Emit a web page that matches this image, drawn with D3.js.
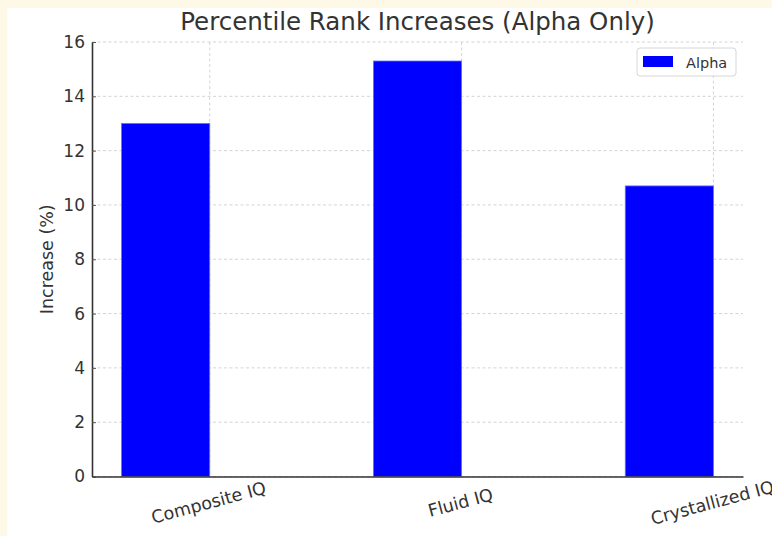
<!DOCTYPE html>
<html>
<head>
<meta charset="utf-8">
<script src="https://cdn.jsdelivr.net/npm/d3@7"></script>
<style>
  html, body { margin: 0; padding: 0; background: #fdf9e6; overflow: hidden; }
  svg { display: block; font-family: "DejaVu Sans", sans-serif; }
</style>
</head>
<body>
<svg id="chart"></svg>
<script>
// Data
const categories = ["Composite IQ", "Fluid IQ", "Crystallized IQ"];
const alphaValues = [13.0, 15.3, 10.7];
const yTicks = [0, 2, 4, 6, 8, 10, 12, 14, 16];
const seriesName = "Alpha";

const width = 772;
const height = 536;

const svg = d3.select("#chart")
    .attr("width", width)
    .attr("height", height);

// white card on the cream page
svg.append("rect")
    .attr("x", 7).attr("y", 8)
    .attr("width", width - 7).attr("height", height - 8)
    .attr("fill", "#ffffff");

const margin = { left: 92, right: 29, top: 42, bottom: 59.5 };
const plotW = width - margin.left - margin.right;
const plotH = height - margin.top - margin.bottom;
const barW = 0.35;

// numeric positions like matplotlib: tick at i, bar drawn from i - width to i
const x = d3.scaleLinear()
    .domain([-barW - 0.1175, categories.length - 1 + 0.1175])
    .range([margin.left, margin.left + plotW]);

const y = d3.scaleLinear()
    .domain([0, 16])
    .range([margin.top + plotH, margin.top]);

const g = svg.append("g");

// grid lines
g.selectAll(".hgrid")
    .data(yTicks)
    .enter().append("line")
    .attr("x1", margin.left).attr("x2", margin.left + plotW)
    .attr("y1", d => y(d)).attr("y2", d => y(d))
    .attr("stroke", "#cfcfcf")
    .attr("stroke-width", 0.9)
    .attr("stroke-dasharray", "3,2.5");

g.selectAll(".vgrid")
    .data(categories)
    .enter().append("line")
    .attr("x1", (d, i) => x(i)).attr("x2", (d, i) => x(i))
    .attr("y1", margin.top).attr("y2", margin.top + plotH)
    .attr("stroke", "#cfcfcf")
    .attr("stroke-width", 0.9)
    .attr("stroke-dasharray", "3,2.5");

// bars
g.selectAll(".bar")
    .data(alphaValues)
    .enter().append("rect")
    .attr("x", (d, i) => x(i - barW))
    .attr("y", d => y(d))
    .attr("width", (d, i) => x(i) - x(i - barW))
    .attr("height", d => y(0) - y(d))
    .attr("fill", "#0000ff")
    .attr("stroke", "#6b6bff")
    .attr("stroke-width", 0.8);

// y axis
const yAxis = d3.axisLeft(y)
    .tickValues(yTicks)
    .tickSize(0)
    .tickPadding(7);

const yG = svg.append("g")
    .attr("transform", `translate(${margin.left},0)`)
    .call(yAxis);
yG.select(".domain").attr("stroke", "#333").attr("stroke-width", 1.6);
yG.selectAll("text")
    .attr("font-size", 17)
    .attr("fill", "#333")
    .attr("font-family", "DejaVu Sans");
yG.selectAll(".tick").append("line")
    .attr("x1", 0).attr("x2", 4)
    .attr("stroke", "#555").attr("stroke-width", 1);

// x axis
const xAxis = d3.axisBottom(x)
    .tickValues(d3.range(categories.length))
    .tickFormat(i => categories[i])
    .tickSize(0)
    .tickPadding(0);

const xG = svg.append("g")
    .attr("transform", `translate(0,${margin.top + plotH})`)
    .call(xAxis);
xG.select(".domain").attr("stroke", "#333").attr("stroke-width", 1.6);
xG.selectAll("text")
    .attr("font-size", 17.5)
    .attr("fill", "#333")
    .attr("font-family", "DejaVu Sans")
    .attr("text-anchor", "middle")
    .attr("dy", 0)
    .attr("y", 0)
    .attr("transform", "translate(0,32) rotate(-15)");

// title
svg.append("text")
    .attr("x", margin.left + plotW / 2)
    .attr("y", 30)
    .attr("text-anchor", "middle")
    .attr("font-size", 24.5)
    .attr("fill", "#333")
    .text("Percentile Rank Increases (Alpha Only)");

// y label
svg.append("text")
    .attr("transform", `translate(53,${margin.top + plotH / 2}) rotate(-90)`)
    .attr("text-anchor", "middle")
    .attr("font-size", 17.5)
    .attr("fill", "#333")
    .text("Increase (%)");

// legend
const lg = svg.append("g").attr("transform", "translate(637,48)");
lg.append("rect")
    .attr("width", 99).attr("height", 28)
    .attr("rx", 3)
    .attr("fill", "#ffffff")
    .attr("fill-opacity", 0.85)
    .attr("stroke", "#d6d6d6");
lg.append("rect")
    .attr("x", 6).attr("y", 8)
    .attr("width", 30).attr("height", 11)
    .attr("fill", "#0000ff");
lg.append("text")
    .attr("x", 49).attr("y", 19.5)
    .attr("font-size", 14.5)
    .attr("fill", "#333")
    .text(seriesName);
</script>
</body>
</html>
